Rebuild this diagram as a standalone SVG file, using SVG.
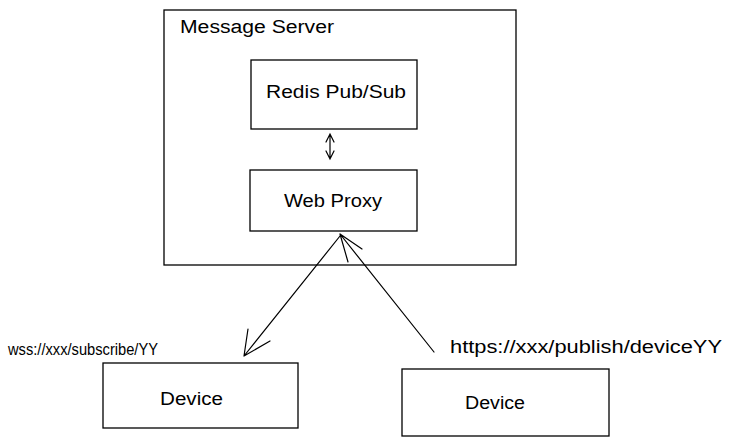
<svg xmlns="http://www.w3.org/2000/svg" width="733" height="445" viewBox="0 0 733 445">
<defs>
<style>
.box{fill:none;stroke:#000;stroke-width:1.3}
.t{font-family:"Liberation Sans",Arial,sans-serif;font-size:18px;fill:#000}
.c{stroke:#000;stroke-width:1.2;fill:none;stroke-linecap:round}
</style>
</defs>
<rect width="733" height="445" fill="#fff"/>
<g id="message-server">
<rect class="box" x="164" y="10" width="352" height="255"/>
<text class="t" x="180" y="33" textLength="154" lengthAdjust="spacingAndGlyphs">Message Server</text>
</g>
<g id="redis">
<rect class="box" x="251" y="60" width="166" height="69"/>
<text class="t" x="266" y="98" textLength="140" lengthAdjust="spacingAndGlyphs">Redis Pub/Sub</text>
</g>
<g id="web-proxy">
<rect class="box" x="250" y="170" width="167" height="61"/>
<text class="t" x="284" y="207" textLength="98" lengthAdjust="spacingAndGlyphs">Web Proxy</text>
</g>
<g id="device-left">
<rect class="box" x="103" y="363" width="195" height="65"/>
<text class="t" x="160" y="405" textLength="63" lengthAdjust="spacingAndGlyphs">Device</text>
</g>
<g id="device-right">
<rect class="box" x="402" y="369" width="207" height="67"/>
<text class="t" x="465" y="409" textLength="60" lengthAdjust="spacingAndGlyphs">Device</text>
</g>
<g id="connectors">
<path class="c" d="M330 134 L330 159 M326 142 L330 134 L334 142 M326 151 L330 159 L334 151"/>
<path class="c" d="M340 236 L244 356 M248 329 L244 356 M270 341 L244 356"/>
<path class="c" d="M434 352 L340 234 M362 249 L340 234 M348 262 L340 234"/>
<text class="t" x="8" y="355" style="font-size:16px" textLength="150" lengthAdjust="spacingAndGlyphs">wss://xxx/subscribe/YY</text>
<text class="t" x="450" y="353" textLength="272" lengthAdjust="spacingAndGlyphs">https://xxx/publish/deviceYY</text>
</g>
</svg>
